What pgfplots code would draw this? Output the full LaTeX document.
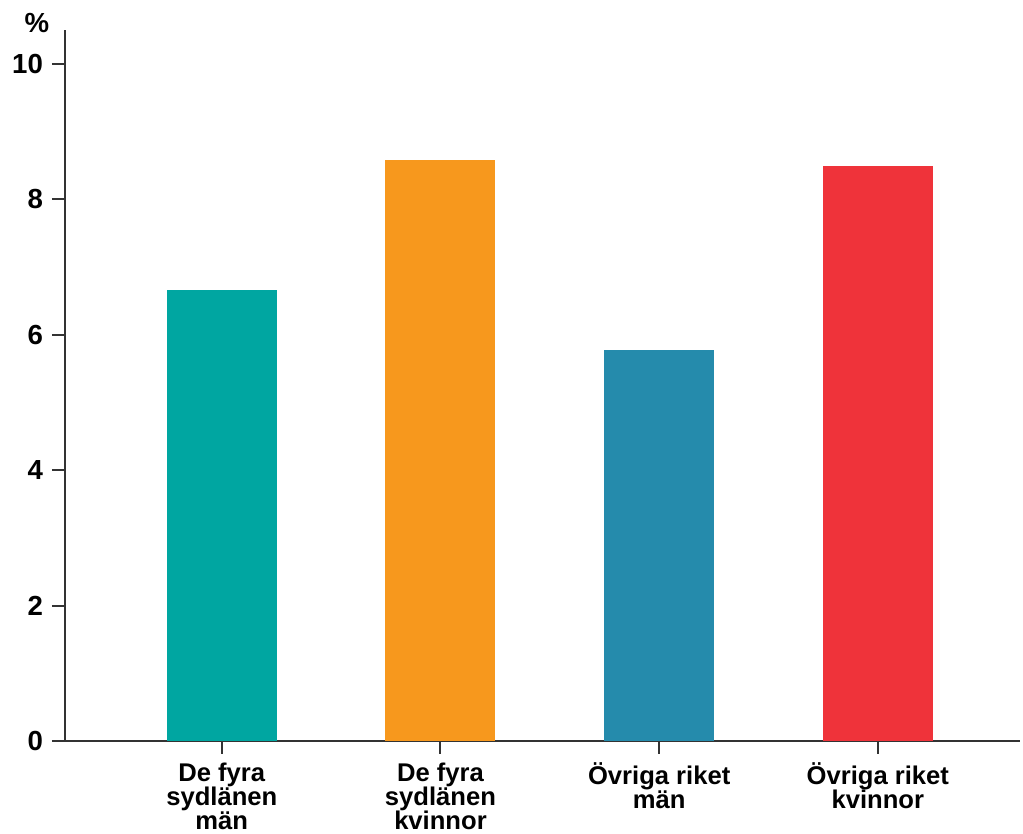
\documentclass[border=0pt]{standalone}
\usepackage{fontspec}
\setmainfont{Liberation Sans}
\usepackage{pgfplots}
\pgfplotsset{compat=1.18}
\definecolor{cteal}{RGB}{0,166,161}
\definecolor{corange}{RGB}{247,152,29}
\definecolor{cblue}{RGB}{37,139,172}
\definecolor{cred}{RGB}{239,51,58}
\definecolor{axgray}{RGB}{51,51,51}

\begin{document}
\begin{tikzpicture}
\begin{axis}[
    scale only axis,
    width=477.5pt, height=355.5pt,
    ybar, bar width=55pt, bar shift=0pt,
    xmin=-0.717, xmax=3.65,
    ymin=0, ymax=10.5,
    axis x line*=bottom, axis y line*=left,
    axis line style={axgray, line width=1pt, -},
    xtick={0,1,2,3},
    xticklabels={{De fyra\\sydlänen\\män},{De fyra\\sydlänen\\kvinnor},{Övriga riket\\män},{Övriga riket\\kvinnor}},
    xticklabel style={align=center, font=\fontsize{12.8}{12}\selectfont\bfseries, yshift=-1pt},
    ytick={0,2,4,6,8,10},
    yticklabel style={font=\fontsize{13.8}{15}\selectfont\bfseries, xshift=-1pt},
    /pgf/number format/assume math mode=true,
    tick align=outside,
    major tick length=6.5pt,
    tick style={axgray, line width=1pt},
    clip=false,
]
\addplot[fill=cteal, draw=none] coordinates {(0,6.66)};
\addplot[fill=corange, draw=none] coordinates {(1,8.58)};
\addplot[fill=cblue, draw=none] coordinates {(2,5.78)};
\addplot[fill=cred, draw=none] coordinates {(3,8.49)};
\node[font=\fontsize{13.8}{15}\selectfont\bfseries] at ([xshift=-14pt,yshift=3.5pt]rel axis cs:0,1) {\%};
\end{axis}
\pgfresetboundingbox
\path[use as bounding box] ([xshift=-32.5pt,yshift=-46.5pt]current axis.south west) rectangle ([xshift=479pt,yshift=370.5pt]current axis.south west);
\end{tikzpicture}
\end{document}
